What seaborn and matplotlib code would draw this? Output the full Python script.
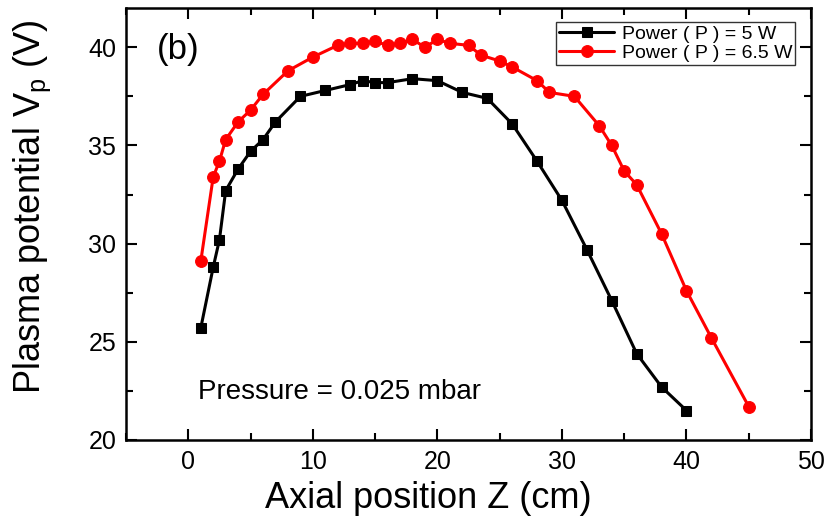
import matplotlib
matplotlib.use('Agg')
import matplotlib.pyplot as plt
from matplotlib.ticker import MultipleLocator
import seaborn as sns
import pandas as pd

# Fig.(b): plasma potential vs axial position
z_5w = [1, 2, 2.5, 3, 4, 5, 6, 7, 9, 11, 13, 14, 15, 16, 18, 20, 22, 24, 26, 28, 30, 32, 34, 36, 38, 40]
vp_5w = [25.7, 28.8, 30.2, 32.7, 33.8, 34.7, 35.3, 36.2, 37.5, 37.8, 38.1, 38.3, 38.2, 38.2, 38.4, 38.3,
         37.7, 37.4, 36.1, 34.2, 32.2, 29.7, 27.1, 24.4, 22.7, 21.5]
z_65w = [1, 2, 2.5, 3, 4, 5, 6, 8, 10, 12, 13, 14, 15, 16, 17, 18, 19, 20, 21, 22.5, 23.5, 25, 26, 28, 29,
         31, 33, 34, 35, 36, 38, 40, 42, 45]
vp_65w = [29.1, 33.4, 34.2, 35.3, 36.2, 36.8, 37.6, 38.8, 39.5, 40.1, 40.2, 40.2, 40.3, 40.1, 40.2, 40.4,
          40.0, 40.4, 40.2, 40.1, 39.6, 39.3, 39.0, 38.3, 37.7, 37.5, 36.0, 35.0, 33.7, 33.0, 30.5, 27.6,
          25.2, 21.7]
labels = ["Power ( P ) = 5 W", "Power ( P ) = 6.5 W"]

sns.set_style('ticks')
plt.rcParams['font.family'] = ['Liberation Sans', 'DejaVu Sans']
plt.rcParams['text.color'] = 'black'
plt.rcParams['axes.labelcolor'] = 'black'
plt.rcParams['xtick.color'] = 'black'
plt.rcParams['ytick.color'] = 'black'
plt.rcParams['xtick.direction'] = 'in'
plt.rcParams['ytick.direction'] = 'in'

df5 = pd.DataFrame({'z': z_5w, 'vp': vp_5w})
df65 = pd.DataFrame({'z': z_65w, 'vp': vp_65w})

fig = plt.figure(figsize=[8.27, 5.23], dpi=100)
ax = fig.add_axes([0.1524, 0.1587, 0.8283, 0.826])
sns.lineplot(data=df5, x='z', y='vp', ax=ax, color='black', marker='s', markersize=7.5,
             markeredgecolor='black', linewidth=2.2, label=labels[0], sort=False)
sns.lineplot(data=df65, x='z', y='vp', ax=ax, color='#ff0000', marker='o', markersize=8.5,
             markeredgecolor='#ff0000', linewidth=2.2, label=labels[1], sort=False)

ax.set_xlim(-5, 50)
ax.set_ylim(20, 42)
ax.xaxis.set_major_locator(MultipleLocator(10))
ax.xaxis.set_minor_locator(MultipleLocator(5))
ax.yaxis.set_major_locator(MultipleLocator(5))
ax.yaxis.set_minor_locator(MultipleLocator(2.5))
ax.tick_params(which='both', top=True, right=True, width=1.5, colors='black')
ax.tick_params(which='major', length=8, labelsize=18, pad=7)
ax.tick_params(which='minor', length=5)
for s in ax.spines.values():
    s.set_linewidth(1.8)
    s.set_color('black')

ax.set_xlabel('Axial position Z (cm)', fontsize=26, color='black')
ax.xaxis.set_label_coords(0.442, -0.095, transform=ax.transAxes)
ax.xaxis.label.set_va('top')
ax.set_ylabel(r'Plasma potential V$_\mathregular{p}$ (V)', fontsize=26, color='black')
ax.yaxis.set_label_coords(-0.137, 0.539, transform=ax.transAxes)
ax.yaxis.label.set_va('center')
ax.text(0.045, 0.905, '(b)', transform=ax.transAxes, fontsize=25, va='center', color='black')
ax.text(0.105, 0.111, 'Pressure = 0.025 mbar', transform=ax.transAxes, fontsize=20, va='center', color='black')

leg = ax.legend(loc='upper right', bbox_to_anchor=(0.985, 0.98), fontsize=14, frameon=True, fancybox=False,
                borderpad=0.15, handlelength=2.8, labelspacing=0.05, handletextpad=0.4, borderaxespad=0.3)
leg.get_frame().set_edgecolor('black')
leg.get_frame().set_linewidth(1.0)
for t in leg.get_texts():
    t.set_color('black')

plt.savefig('out.png', dpi=100)
plt.close()
